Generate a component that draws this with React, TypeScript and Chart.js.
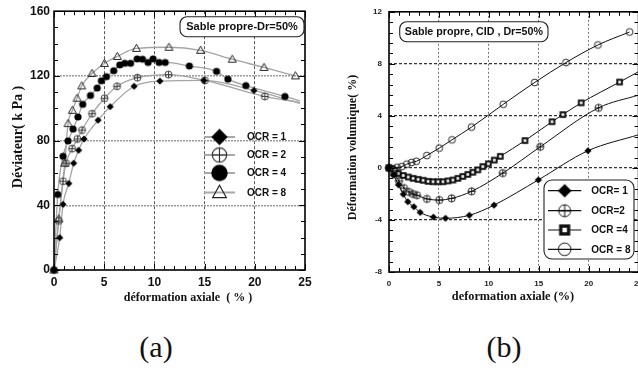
import React, { useEffect, useRef } from "react";
import { Chart, registerables } from "chart.js";

Chart.register(...registerables);

// ---------------- Panel (a): déviateur vs déformation axiale ----------------
const aXMin = 0, aXMax = 25, aXStep = 5;
const aYMin = 0, aYMax = 160, aYStep = 40;
const aLabels = ["OCR = 1", "OCR = 2", "OCR = 4", "OCR = 8"];
const aBoxText = "Sable propre-Dr=50%";
const aXTitle = "déformation axiale  ( % )";
const aYTitle = "Déviateur( k Pa )";

const a1X = [0, 0.57, 0.9, 1.47, 1.96, 2.45, 2.99, 4.39, 5.6, 7.98, 10.54, 14.93, 19.91];
const a1Y = [0, 20, 40.6, 53.5, 66, 74, 81, 92.6, 101, 113.6, 116.8, 117.2, 111];
const a1End = [24.5, 103];

const a2X = [0, 0.47, 0.9, 1.2, 1.8, 2.33, 2.79, 3.79, 5.03, 6.28, 8.31, 11.4, 15.03, 21.0];
const a2Y = [0, 30.4, 54.9, 66, 75, 81, 86.5, 96.6, 106.2, 113.6, 118.9, 120.8, 117.2, 107.3];
const a2End = [24.5, 103.5];

const a4X = [0, 0.37, 0.9, 1.4, 1.9, 2.39, 2.86, 3.63, 4.3, 4.72, 5.22, 5.95, 6.55, 7.05, 7.62, 8.28, 8.81, 9.37, 9.87, 10.47, 11.07, 13.48, 16.19, 17.32, 19.11, 23.0];
const a4Y = [0, 46.7, 70.3, 79.8, 87.1, 94.6, 102.4, 107.9, 112.5, 117, 119.5, 123.2, 126.8, 127.8, 127.8, 130.5, 130.3, 128.3, 130.5, 128.3, 128.3, 126.1, 122.8, 118, 114, 107.3];
const a4End = [24.5, 104.5];

const a8X = [0, 0.47, 1.07, 1.4, 1.83, 2.3, 2.76, 3.79, 5.02, 6.3, 8.21, 11.45, 14.6, 17.75, 20.92, 24.05];
const a8Y = [0, 31.5, 66, 90.5, 98.7, 106.2, 113.8, 121.5, 127.7, 132, 137, 137.7, 135.8, 130.3, 125.2, 120];
const a8End: number[] | null = null;

// ---------------- Panel (b): déformation volumique vs déformation axiale ----------------
const bXMin = 0, bXMax = 25, bXStep = 5;
const bYMin = -8, bYMax = 12, bYStep = 4;
const bLabels = ["OCR= 1", "OCR=2", "OCR =4", "OCR = 8"];
const bBoxText = "Sable propre, CID , Dr=50%";
const bXTitle = "deformation axiale (%)";
const bYTitle = "Déformation volumique( %)";

const b1X = [0, 0.45, 0.95, 1.43, 1.88, 2.49, 3.12, 4.45, 5.66, 8.05, 10.52, 14.96, 19.93];
const b1Y = [0, -0.55, -1.3, -2.02, -2.6, -2.98, -3.42, -3.78, -3.87, -3.64, -2.86, -0.92, 1.32];
const b1End = [25, 2.55];

const b2X = [0, 0.5, 1.0, 1.5, 2.0, 2.4, 2.8, 3.8, 5.04, 6.28, 8.28, 11.4, 15.15, 21.0];
const b2Y = [0, -0.45, -1.0, -1.55, -1.85, -2.0, -2.1, -2.38, -2.47, -2.34, -1.8, -0.4, 1.62, 4.62];
const b2End = [25, 5.6];

const b4X = [0, 0.33, 0.6, 0.93, 1.43, 1.93, 2.42, 2.92, 3.42, 3.92, 4.42, 4.92, 5.41, 5.91, 6.41, 6.9, 7.4, 7.9, 8.4, 8.9, 9.4, 9.95, 10.55, 11.15, 13.62, 16.33, 17.42, 19.25, 23.1];
const b4Y = [0, -0.05, -0.2, -0.43, -0.58, -0.7, -0.8, -0.88, -0.95, -1.03, -1.06, -1.06, -1.06, -1.0, -0.93, -0.8, -0.65, -0.5, -0.33, -0.15, 0.1, 0.32, 0.6, 0.89, 2.1, 3.55, 4.1, 5.0, 6.6];
const b4End = [25, 7.4];

const b8X = [0, 0.8, 1.28, 1.78, 2.27, 2.74, 3.79, 5.03, 6.31, 8.27, 11.45, 14.6, 17.73, 20.93, 24.1];
const b8Y = [0, 0.05, 0.1, 0.29, 0.42, 0.51, 0.95, 1.52, 2.16, 3.14, 4.89, 6.57, 8.1, 9.45, 10.45];
const b8End: number[] | null = null;

// ---------------- helpers ----------------
const SANS = '"Liberation Sans", Arial, sans-serif';
const SERIF = '"Liberation Serif", "Times New Roman", serif';

function marker(kind: string, r: number, color: string, lw = 1): HTMLCanvasElement {
  const s = Math.ceil(2 * r + lw * 2 + 2);
  const c = document.createElement("canvas");
  c.width = s;
  c.height = s;
  const g = c.getContext("2d")!;
  g.translate(s / 2, s / 2);
  g.strokeStyle = color;
  g.fillStyle = color;
  g.lineWidth = lw;
  g.beginPath();
  if (kind === "diamond") {
    g.moveTo(0, -r); g.lineTo(r, 0); g.lineTo(0, r); g.lineTo(-r, 0); g.closePath(); g.fill();
  } else if (kind === "disc") {
    g.arc(0, 0, r, 0, Math.PI * 2); g.fill();
  } else if (kind === "ring") {
    g.arc(0, 0, r, 0, Math.PI * 2); g.stroke();
  } else if (kind === "plus") {
    g.arc(0, 0, r, 0, Math.PI * 2); g.stroke();
    g.beginPath(); g.moveTo(-r, 0); g.lineTo(r, 0); g.moveTo(0, -r); g.lineTo(0, r); g.stroke();
  } else if (kind === "tri") {
    g.moveTo(0, -r); g.lineTo(r * 0.95, r * 0.7); g.lineTo(-r * 0.95, r * 0.7); g.closePath(); g.stroke();
  } else if (kind === "sq") {
    g.fillRect(-r, -r, 2 * r, 2 * r);
    g.fillStyle = "#fff";
    const q = r * 0.4;
    g.fillRect(-q, -q, 2 * q, 2 * q);
  }
  return c;
}

function pts(xs: number[], ys: number[]) {
  return xs.map((x, i) => ({ x, y: ys[i] }));
}

type Ser = { xs: number[]; ys: number[]; end: number[] | null };

function buildDatasets(series: Ser[], lineColor: string, lineWidth: number, imgs: HTMLCanvasElement[]) {
  const ds: any[] = [];
  series.forEach((s, i) => {
    const line = pts(s.xs, s.ys);
    if (s.end) line.push({ x: s.end[0], y: s.end[1] });
    ds.push({
      data: line, borderColor: lineColor, borderWidth: lineWidth, pointRadius: 0,
      cubicInterpolationMode: "monotone", fill: false, order: 2,
    });
    ds.push({
      data: pts(s.xs, s.ys), showLine: false, pointStyle: imgs[i], pointRadius: 4,
      clip: false, order: 1,
    });
  });
  return ds;
}

function roundRect(ctx: CanvasRenderingContext2D, x: number, y: number, w: number, h: number, r: number) {
  ctx.beginPath();
  ctx.moveTo(x + r, y);
  ctx.arcTo(x + w, y, x + w, y + h, r);
  ctx.arcTo(x + w, y + h, x, y + h, r);
  ctx.arcTo(x, y + h, x, y, r);
  ctx.arcTo(x, y, x + w, y, r);
  ctx.closePath();
}

function drawFrame(chart: any, xMinor: number, xPer: number, yMinor: number, yPer: number) {
  const { ctx, chartArea: a } = chart;
  const xs = chart.scales.x, ys = chart.scales.y;
  ctx.save();
  ctx.setLineDash([]);
  ctx.strokeStyle = "#000";
  ctx.lineWidth = 1;
  ctx.beginPath();
  const nx = Math.round((xs.max - xs.min) / xMinor);
  for (let i = 0; i <= nx; i++) {
    const p = Math.round(xs.getPixelForValue(xs.min + i * xMinor)) + 0.5;
    const L = i % xPer === 0 ? 6 : 4;
    ctx.moveTo(p, a.bottom); ctx.lineTo(p, a.bottom - L);
    ctx.moveTo(p, a.top); ctx.lineTo(p, a.top + L);
  }
  const ny = Math.round((ys.max - ys.min) / yMinor);
  for (let i = 0; i <= ny; i++) {
    const p = Math.round(ys.getPixelForValue(ys.min + i * yMinor)) + 0.5;
    const L = i % yPer === 0 ? 6 : 4;
    ctx.moveTo(a.left, p); ctx.lineTo(a.left + L, p);
    ctx.moveTo(a.right, p); ctx.lineTo(a.right - L, p);
  }
  ctx.stroke();
  ctx.lineWidth = 1.6;
  ctx.strokeRect(a.left, a.top, a.right - a.left, a.bottom - a.top);
  ctx.restore();
}

function drawTitles(chart: any, xTitle: string, xFont: string, xdx: number, xdy: number, yTitle: string, yFont: string, ydx: number, yy: number) {
  const { ctx, chartArea: a } = chart;
  ctx.save();
  ctx.fillStyle = "#111";
  ctx.textAlign = "center";
  ctx.textBaseline = "middle";
  ctx.font = xFont;
  ctx.fillText(xTitle, a.left + xdx, a.bottom + xdy);
  ctx.translate(a.left + ydx, yy);
  ctx.rotate(-Math.PI / 2);
  ctx.font = yFont;
  ctx.fillText(yTitle, 0, 0);
  ctx.restore();
}

function drawBoxText(chart: any, text: string, font: string, x: number, y: number, w: number, h: number) {
  const { ctx } = chart;
  ctx.save();
  ctx.setLineDash([]);
  roundRect(ctx, x, y, w, h, 7);
  ctx.fillStyle = "#fff";
  ctx.fill();
  ctx.strokeStyle = "#222";
  ctx.lineWidth = 1.1;
  ctx.stroke();
  ctx.fillStyle = "#111";
  ctx.font = font;
  ctx.textAlign = "center";
  ctx.textBaseline = "middle";
  ctx.fillText(text, x + w / 2, y + h / 2 + 0.5);
  ctx.restore();
}

function drawLegendRows(chart: any, labels: string[], imgs: HTMLCanvasElement[], rows: number[], x0: number, x1: number, tx: number, lineColor: string, lineW: number) {
  const { ctx } = chart;
  ctx.save();
  ctx.setLineDash([]);
  ctx.font = `bold 10px ${SANS}`;
  ctx.textBaseline = "middle";
  ctx.textAlign = "left";
  labels.forEach((l, i) => {
    const y = rows[i];
    ctx.strokeStyle = lineColor;
    ctx.lineWidth = lineW;
    ctx.beginPath(); ctx.moveTo(x0, y); ctx.lineTo(x1, y); ctx.stroke();
    const im = imgs[i];
    ctx.drawImage(im, (x0 + x1) / 2 - im.width / 2, y - im.height / 2);
    ctx.fillStyle = "#111";
    ctx.fillText(l, tx, y + 0.5);
  });
  ctx.restore();
}

function edgeColor(c: any, lo: number, hi: number, col: string) {
  const v = c.tick ? c.tick.value : NaN;
  return v === lo || v === hi ? "rgba(0,0,0,0)" : col;
}

export default function App() {
  const refA = useRef<HTMLCanvasElement | null>(null);
  const refB = useRef<HTMLCanvasElement | null>(null);

  useEffect(() => {
    const mkA = [
      marker("diamond", 3.6, "#000"),
      marker("plus", 3.5, "#444", 1),
      marker("disc", 3.6, "#000"),
      marker("tri", 4.2, "#222", 1),
    ];
    const lgA = [
      marker("diamond", 8.2, "#000"),
      marker("plus", 7.2, "#333", 1.2),
      marker("disc", 8.2, "#000"),
      marker("tri", 7.2, "#222", 1.2),
    ];
    const mkB = [
      marker("diamond", 3.6, "#000"),
      marker("plus", 3.6, "#111", 0.9),
      marker("sq", 3.3, "#111"),
      marker("ring", 3.4, "#111", 0.9),
    ];
    const lgB = [
      marker("diamond", 6.8, "#000"),
      marker("plus", 6, "#111", 1),
      marker("sq", 5.6, "#111"),
      marker("ring", 6.3, "#111", 1),
    ];

    const serA: Ser[] = [
      { xs: a1X, ys: a1Y, end: a1End },
      { xs: a2X, ys: a2Y, end: a2End },
      { xs: a4X, ys: a4Y, end: a4End },
      { xs: a8X, ys: a8Y, end: a8End },
    ];
    const serB: Ser[] = [
      { xs: b1X, ys: b1Y, end: b1End },
      { xs: b2X, ys: b2Y, end: b2End },
      { xs: b4X, ys: b4Y, end: b4End },
      { xs: b8X, ys: b8Y, end: b8End },
    ];

    const pluginA = {
      id: "panelA",
      afterDatasetsDraw(chart: any) {
        drawFrame(chart, 1, 5, 10, 4);
      },
      afterDraw(chart: any) {
        const a = chart.chartArea;
        drawTitles(chart, aXTitle, `bold 12px ${SERIF}`, 134, 28, aYTitle, `bold 14px ${SERIF}`, -36, 137);
        drawBoxText(chart, aBoxText, `bold 11px ${SANS}`, a.right - 125, a.top + 5.5, 124, 20);
        drawLegendRows(chart, aLabels, lgA, [137, 155, 173, 192.5], a.left + 150, a.left + 181, a.left + 193, "#a8a8a8", 2);
      },
    };

    const pluginB = {
      id: "panelB",
      afterDatasetsDraw(chart: any) {
        drawFrame(chart, 1, 5, 0.8, 5);
      },
      afterDraw(chart: any) {
        const a = chart.chartArea;
        drawTitles(chart, bXTitle, `bold 12.3px ${SERIF}`, 124, 25, bYTitle, `bold 12px ${SERIF}`, -36, 147.5);
        drawBoxText(chart, bBoxText, `bold 10.7px ${SANS}`, a.left + 10.7, 21.7, 148.3, 20);
        const ctx = chart.ctx;
        ctx.save();
        roundRect(ctx, a.left + 155, 180, 90, 79, 8);
        ctx.fillStyle = "#fff";
        ctx.fill();
        ctx.strokeStyle = "#222";
        ctx.lineWidth = 1.1;
        ctx.stroke();
        ctx.restore();
        drawLegendRows(chart, bLabels, lgB, [190.7, 210.7, 230, 249.3], a.left + 159, a.left + 192.3, a.left + 202.3, "#111", 1.2);
      },
    };

    const chartA = new Chart(refA.current!, {
      type: "line",
      data: { datasets: buildDatasets(serA, "#a4a4a4", 1.3, mkA) },
      options: {
        animation: false,
        responsive: false,
        devicePixelRatio: 1,
        layout: { padding: { left: 0, top: 8, right: 15, bottom: 0 } },
        plugins: { legend: { display: false }, tooltip: { enabled: false } },
        scales: {
          x: {
            type: "linear", min: aXMin, max: aXMax,
            afterFit: (s: any) => { s.height = 40; },
            ticks: { stepSize: aXStep, color: "#111", padding: 5, maxRotation: 0, font: { family: SANS, size: 12, weight: "bold" } },
            grid: { drawTicks: false, lineWidth: 1, color: (c: any) => edgeColor(c, aXMin, aXMax, "#555") },
            border: { display: false, dash: [3, 2] },
          },
          y: {
            type: "linear", min: aYMin, max: aYMax,
            afterFit: (s: any) => { s.width = 54; },
            ticks: { stepSize: aYStep, color: "#111", padding: 4, font: { family: SANS, size: 12, weight: "bold" } },
            grid: { drawTicks: false, lineWidth: 1.4, color: (c: any) => edgeColor(c, aYMin, aYMax, "#9a9a9a") },
            border: { display: false, dash: [2, 1] },
          },
        },
      } as any,
      plugins: [pluginA],
    } as any);

    const chartB = new Chart(refB.current!, {
      type: "line",
      data: { datasets: buildDatasets(serB, "#111", 1, mkB) },
      options: {
        animation: false,
        responsive: false,
        devicePixelRatio: 1,
        layout: { padding: { left: 0, top: 9, right: 10, bottom: 0 } },
        plugins: { legend: { display: false }, tooltip: { enabled: false } },
        scales: {
          x: {
            type: "linear", min: bXMin, max: bXMax,
            afterFit: (s: any) => { s.height = 38; },
            ticks: { stepSize: bXStep, color: "#222", padding: 7, maxRotation: 0, font: { family: SANS, size: 8, weight: "bold" } },
            grid: { drawTicks: false, lineWidth: 1, color: (c: any) => edgeColor(c, bXMin, bXMax, "#777") },
            border: { display: false, dash: [2, 2] },
          },
          y: {
            type: "linear", min: bYMin, max: bYMax,
            afterFit: (s: any) => { s.width = 59; },
            ticks: { stepSize: bYStep, color: "#222", padding: 7, font: { family: SANS, size: 8, weight: "bold" } },
            grid: { drawTicks: false, lineWidth: 1.2, color: (c: any) => edgeColor(c, bYMin, bYMax, "#333") },
            border: { display: false, dash: [3, 2] },
          },
        },
      } as any,
      plugins: [pluginB],
    } as any);

    return () => {
      chartA.destroy();
      chartB.destroy();
    };
  }, []);

  const capStyle: React.CSSProperties = {
    position: "absolute", top: 332, width: 100, textAlign: "center",
    fontFamily: SERIF, fontSize: 30, lineHeight: "30px", color: "#111",
  };

  return (
    <div style={{ position: "fixed", left: 0, top: 0, width: 638, height: 370, overflow: "hidden", background: "#fff" }}>
      <canvas ref={refA} width={320} height={310} style={{ position: "absolute", left: 0, top: 0 }} />
      <canvas ref={refB} width={320} height={310} style={{ position: "absolute", left: 330, top: 0 }} />
      <div style={{ ...capStyle, left: 106 }}>(a)</div>
      <div style={{ ...capStyle, left: 454 }}>(b)</div>
    </div>
  );
}
